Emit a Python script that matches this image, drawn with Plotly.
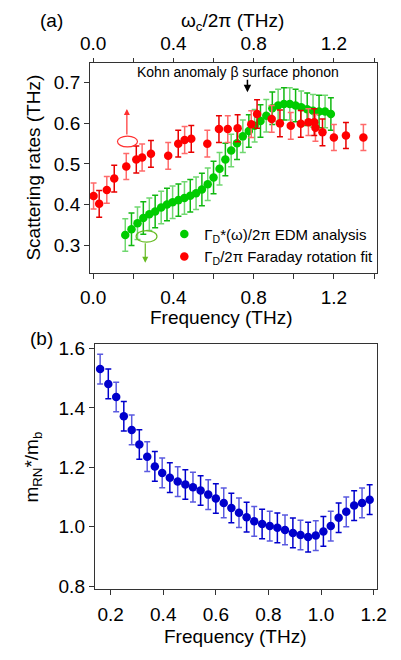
import plotly.graph_objects as go

# ---------------- data ----------------
# Panel (a): Faraday rotation fit (plotted against top axis omega_c/2pi)
red_wc = [0.002, 0.030, 0.068, 0.105, 0.165, 0.215, 0.244, 0.288, 0.374, 0.424,
          0.456, 0.489, 0.569, 0.627, 0.671, 0.720, 0.788, 0.817, 0.890, 0.931,
          0.985, 1.035, 1.073, 1.102, 1.108, 1.143, 1.200, 1.260, 1.347]
red_rate = [0.421, 0.402, 0.436, 0.464, 0.494, 0.511, 0.516, 0.525, 0.520, 0.550,
            0.559, 0.562, 0.550, 0.586, 0.586, 0.588, 0.598, 0.623, 0.611, 0.600,
            0.594, 0.599, 0.603, 0.603, 0.589, 0.578, 0.565, 0.570, 0.565]
red_err = [0.032, 0.033, 0.033, 0.033, 0.032, 0.033, 0.033, 0.033, 0.033, 0.033,
           0.033, 0.033, 0.033, 0.033, 0.033, 0.033, 0.033, 0.035, 0.033, 0.033,
           0.033, 0.033, 0.033, 0.033, 0.033, 0.033, 0.032, 0.032, 0.032]

# Common frequency grid for EDM analysis
freq = [0.160, 0.191, 0.221, 0.250, 0.280, 0.309, 0.339, 0.368, 0.396, 0.425,
        0.455, 0.484, 0.513, 0.542, 0.571, 0.600, 0.630, 0.659, 0.688, 0.717,
        0.746, 0.776, 0.805, 0.834, 0.863, 0.893, 0.922, 0.951, 0.980, 1.009,
        1.037, 1.067, 1.096, 1.126, 1.156, 1.185]
green_rate = [0.325, 0.339, 0.354, 0.367, 0.376, 0.383, 0.393, 0.400, 0.406, 0.411,
              0.416, 0.422, 0.428, 0.437, 0.450, 0.467, 0.488, 0.511, 0.533, 0.551,
              0.568, 0.581, 0.594, 0.606, 0.619, 0.637, 0.644, 0.648, 0.648, 0.644,
              0.640, 0.635, 0.631, 0.629, 0.629, 0.623]
green_err = [0.040] * 36

# Panel (b): effective mass ratio
mass_ratio = [1.531, 1.481, 1.437, 1.372, 1.326, 1.277, 1.236, 1.203, 1.181, 1.165,
              1.152, 1.142, 1.133, 1.122, 1.108, 1.095, 1.080, 1.063, 1.047, 1.032,
              1.018, 1.009, 1.002, 0.996, 0.989, 0.979, 0.972, 0.965, 0.970, 0.984,
              1.002, 1.030, 1.050, 1.071, 1.080, 1.091]
mass_err = [0.050] * 36

top_ticks = [0.0, 0.4, 0.8, 1.2]
bot_ticks = [0.2, 0.4, 0.6, 0.8, 1.0, 1.2]

# ---------------- layout helpers ----------------
W, H = 401, 660
def px(x):
    return x / W
def py(y):
    return 1 - y / H

FONT = "Liberation Sans, Arial, sans-serif"
AX = "#333333"

fig = go.Figure()

def err_traces(x, y, e, cdark, clight, xaxis, yaxis):
    for start, col in ((0, clight), (1, cdark)):
        fig.add_trace(go.Scatter(
            x=x[start::2], y=y[start::2], mode="markers",
            marker=dict(size=1, color="rgba(0,0,0,0)"),
            error_y=dict(type="data", array=e[start::2], color=col,
                         thickness=1.5, width=3),
            xaxis=xaxis, yaxis=yaxis, showlegend=False, hoverinfo="skip"))

# green (EDM)
err_traces(freq, green_rate, green_err, "#10b810", "#70d870", "x", "y")
# red (Faraday) on top axis
err_traces(red_wc, red_rate, red_err, "#e80000", "#ff6a6a", "x3", "y")
fig.add_trace(go.Scatter(
    x=freq, y=green_rate, mode="markers",
    marker=dict(size=8.5, color="#00cc00"),
    name="Γ<sub>D</sub>*(ω)/2π EDM analysis", xaxis="x", yaxis="y"))
fig.add_trace(go.Scatter(
    x=red_wc, y=red_rate, mode="markers",
    marker=dict(size=8.5, color="#ff0000"),
    name="Γ<sub>D</sub>/2π Faraday rotation fit", xaxis="x3", yaxis="y"))

# blue (mass)
err_traces(freq, mass_ratio, mass_err, "#0000cc", "#5a5ae0", "x2", "y2")
fig.add_trace(go.Scatter(
    x=freq, y=mass_ratio, mode="markers",
    marker=dict(size=8.5, color="#0000cc"),
    xaxis="x2", yaxis="y2", showlegend=False))

tickfont = dict(family=FONT, size=19, color="black")
common = dict(showgrid=False, zeroline=False, showline=True, linecolor=AX,
              linewidth=1, ticks="outside", ticklen=5, tickwidth=1,
              tickcolor=AX, tickfont=tickfont, tickformat=".1f")

xr_top = [-0.0157, 1.416]
fig.update_layout(
    width=W, height=H, margin=dict(l=0, r=0, t=0, b=0),
    paper_bgcolor="white", plot_bgcolor="white",
    font=dict(family=FONT, color="black"),
    xaxis=dict(domain=[px(84), px(385.5)], range=xr_top, anchor="y",
               tickvals=top_ticks, ticklabelstandoff=2,
               minor=dict(dtick=0.2, tick0=0, ticks="outside", ticklen=5,
                          tickcolor=AX, tickwidth=1),
               **common),
    xaxis3=dict(domain=[px(84), px(385.5)], range=xr_top, anchor="y",
                overlaying="x", side="top", tickvals=top_ticks,
                ticklabelstandoff=1,
                minor=dict(dtick=0.2, tick0=0, ticks="outside", ticklen=4,
                           tickcolor=AX, tickwidth=1),
                **{**common, "ticklen": 4}),
    yaxis=dict(domain=[py(272.3), py(58.3)], range=[0.2317, 0.7483],
               anchor="x", dtick=0.1, tick0=0, mirror=True, **common),
    xaxis2=dict(domain=[px(89), px(385.7)], range=[0.1396, 1.2145],
                anchor="y2", tickvals=bot_ticks, mirror=True,
                ticklabelstandoff=3, **common),
    yaxis2=dict(domain=[py(595), py(345)], range=[0.789, 1.6149],
                anchor="x2", dtick=0.2, tick0=0, mirror=True, **common),
    showlegend=True,
    legend=dict(x=px(162), y=py(216), xanchor="left", yanchor="top",
                bgcolor="rgba(0,0,0,0)", font=dict(family=FONT, size=15),
                itemwidth=30, tracegroupgap=0),
)

ann = []
def text(x, y, s, size=19, angle=0, xanchor="center"):
    ann.append(dict(x=px(x), y=py(y), xref="paper", yref="paper", text=s,
                    showarrow=False, textangle=angle, xanchor=xanchor,
                    yanchor="middle", font=dict(family=FONT, size=size, color="black")))

text(44, 15, "(a)")
text(33, 339, "(b)")
text(234, 16, "ω<sub>c</sub>/2π (THz)")
text(221.5, 318, "Frequency (THz)")
text(237, 643, "Frequency (THz)")
text(25, 165, "Scattering rates (THz)", angle=-90)
text(24, 470, "m<sub>RN</sub>*/m<sub>b</sub>", angle=-90)
text(239.5, 67, "Kohn anomaly β surface phonon", size=14)

# arrows
ann.append(dict(x=0.769, y=0.6766, xref="x", yref="y", ax=0, ay=-14,
                showarrow=True, arrowhead=2, arrowsize=1, arrowwidth=1.5,
                arrowcolor="black", text=""))
ann.append(dict(x=0.168, y=0.6355, xref="x", yref="y", ax=0, ay=27,
                showarrow=True, arrowhead=2, arrowsize=1, arrowwidth=1.2,
                arrowcolor="#ff3030", text=""))
ann.append(dict(x=0.2597, y=0.2566, xref="x", yref="y", ax=0, ay=-21,
                showarrow=True, arrowhead=2, arrowsize=1, arrowwidth=1.2,
                arrowcolor="#66bb22", text=""))
fig.update_layout(annotations=ann)

fig.update_layout(shapes=[
    dict(type="circle", xref="x", yref="y", x0=0.121, x1=0.221, y0=0.542, y1=0.5685,
         line=dict(color="#ff3030", width=1.2)),
    dict(type="circle", xref="x", yref="y", x0=0.214, x1=0.318, y0=0.3076, y1=0.3358,
         line=dict(color="#66bb22", width=1.2)),
])

fig.write_html("out.html")
